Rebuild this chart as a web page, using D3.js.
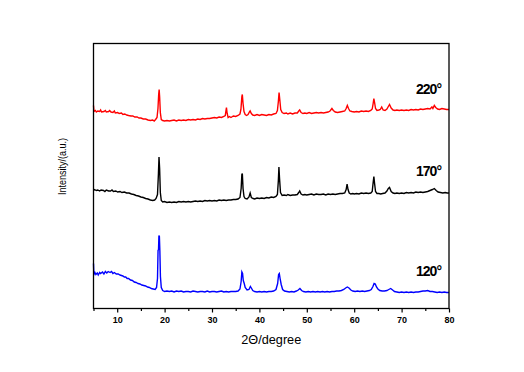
<!DOCTYPE html>
<html><head><meta charset="utf-8">
<script src="https://cdn.jsdelivr.net/npm/d3@7"></script>
<style>html,body{margin:0;padding:0;background:#fff}</style>
</head><body><div id="chart"></div>
<script>
// 2θ (degree) vs relative intensity (a.u., offset stacked)
const seriesNames = ["220°", "170°", "120°"];
const seriesColors = ["#ff0000", "#000000", "#0000ff"];
const xMajorTicks = [10, 20, 30, 40, 50, 60, 70, 80];
const xMinorTicks = [5, 15, 25, 35, 45, 55, 65, 75];

const red220 = [
[5.0,203],[5.1,197],[5.4,198],[5.6,196.5],[5.9,197.5],[6.3,197],[6.5,198.5],[6.7,196.5],[7.2,197],[7.5,198],[7.7,196.5],[8.2,197],[8.4,198],[8.7,196.5],[9.1,196],[9.4,197.5],[9.6,195.5],[10.1,196],[10.4,195],[10.9,195.5],[11.2,194],[11.6,194.5],[12.0,193.5],[12.4,193],[12.9,192.5],[13.3,192.5],[13.7,191.5],[14.2,191.5],[14.6,190.5],[15.0,190.5],[15.5,189.5],[16.0,189.5],[16.5,188.5],[17.0,188],[17.5,188.5],[17.8,187.5],[18.1,189],[18.4,191],[18.6,200],[18.75,214],[18.85,219],[18.95,212],[19.1,196],[19.3,189],[19.6,188],[20.0,187.5],[20.5,188],[21.0,187.5],[21.5,188],[22.0,188.5],[22.5,187.5],[23.0,188.5],[23.5,188],[24.0,188.5],[24.5,188],[25.0,189],[25.5,188.5],[26.0,189],[26.5,188.5],[27.0,189.5],[27.5,189],[28.0,190],[28.5,189.5],[29.0,190],[29.5,190],[30.0,190.5],[30.5,191],[31.0,190.5],[31.5,191.5],[32.0,191],[32.5,192],[32.8,193],[32.95,198],[33.05,201],[33.2,195],[33.4,191],[33.7,192],[34.0,191],[34.5,192.5],[35.0,192],[35.5,193],[35.9,194.5],[36.1,199],[36.3,212],[36.4,214],[36.55,205],[36.75,197],[37.0,194],[37.3,193],[37.6,194],[37.9,196.5],[38.05,197.5],[38.3,195],[38.6,193.5],[39.0,193],[39.5,194],[40.0,193],[40.5,194],[41.0,193.5],[41.5,193],[42.0,194],[42.5,193.5],[43.0,194.5],[43.5,195],[43.8,198],[44.0,207],[44.15,216],[44.3,209],[44.5,199],[44.8,196],[45.2,195],[45.7,195.5],[46.0,194.5],[46.5,195.5],[47.0,194.5],[47.5,195.5],[48.0,195.5],[48.3,197.5],[48.5,198.5],[48.8,196],[49.2,195],[49.6,195.5],[50.0,195],[50.5,196],[51.0,195],[51.5,195.5],[52.0,196],[52.5,195.5],[53.0,196],[53.5,195.5],[54.0,196],[54.5,196.5],[54.9,197.5],[55.3,200],[55.6,198],[56.0,196.5],[56.5,196],[57.0,196.5],[57.5,197],[58.0,197.5],[58.3,200],[58.55,203],[58.8,200],[59.1,197.5],[59.5,197],[60.0,196.5],[60.5,197],[61.0,196.5],[61.5,197.5],[62.0,197],[62.5,197.5],[63.0,197],[63.5,198],[63.8,199.5],[64.0,205],[64.15,210],[64.3,206],[64.5,200],[64.8,198],[65.2,198.5],[65.5,199],[65.8,201.5],[66.1,198.5],[66.5,198],[66.9,199.5],[67.2,202],[67.45,204],[67.8,200.5],[68.2,198.5],[68.6,198],[69.0,198.5],[69.5,198],[70.0,198.5],[70.5,198],[71.0,198.5],[71.5,198],[72.0,199],[72.5,198.5],[73.0,199],[73.5,198.5],[74.0,199.5],[74.5,199],[75.0,199.5],[75.5,200],[76.0,199.5],[76.4,201.5],[76.6,200],[76.9,203],[77.2,201],[77.6,199.5],[78.0,199],[78.5,200],[79.0,199.5],[79.5,199],[80.0,199]
];

const black170 = [
[5.0,118],[5.2,119],[5.6,118],[5.9,118.5],[6.3,117.5],[6.6,118.5],[7.1,118],[7.4,117],[7.7,118.5],[8.2,117.5],[8.6,117.5],[8.9,118.5],[9.2,117],[9.7,117.5],[10.1,116.5],[10.6,117],[11.0,116],[11.5,116.5],[12.0,115.5],[12.5,115.5],[13.0,114.5],[13.5,114],[14.0,113],[14.5,112.5],[15.0,111.5],[15.5,111],[16.0,110],[16.5,109.5],[17.0,108.5],[17.5,108],[17.9,108.5],[18.2,110],[18.5,114],[18.7,135],[18.82,151.5],[18.95,140],[19.1,116],[19.3,108],[19.6,106.5],[20.0,107],[20.5,106],[21.0,106.5],[21.5,106],[22.0,106.5],[22.5,106],[23.0,107],[23.5,106.5],[24.0,107],[24.5,106.5],[25.0,107],[25.5,106.5],[26.0,107],[26.5,107.5],[27.0,107],[27.5,107.5],[28.0,107],[28.5,108],[29.0,107.5],[29.5,108],[30.0,107.5],[30.5,108],[31.0,107.5],[31.5,108.5],[32.0,108],[32.5,108.5],[33.0,108],[33.5,108.5],[34.0,108.5],[34.5,109],[35.0,109],[35.5,109.5],[35.9,111],[36.15,120],[36.3,134],[36.4,135],[36.55,120],[36.75,112],[37.0,110],[37.4,109.5],[37.8,111.5],[38.05,115.5],[38.3,111],[38.7,110],[39.0,109.5],[39.5,110.5],[40.0,110],[40.5,110.5],[41.0,110],[41.5,111],[42.0,110.5],[42.5,111.5],[43.0,111],[43.5,112],[43.8,114],[44.0,128],[44.12,141.5],[44.25,130],[44.45,116],[44.8,113],[45.2,113.5],[45.7,113],[46.0,114],[46.5,113],[47.0,113.5],[47.5,113.5],[48.0,114],[48.3,116],[48.5,117.5],[48.8,114.5],[49.2,113.5],[49.6,114],[50.0,113.5],[50.5,114],[51.0,114.5],[51.5,113.5],[52.0,114.5],[52.5,114],[53.0,114],[53.5,114.5],[54.0,113.5],[54.5,114.5],[55.0,114],[55.5,114.5],[56.0,114],[56.5,114.5],[57.0,115],[57.5,115],[58.0,115.5],[58.3,119],[58.5,124.5],[58.7,119],[58.95,115.5],[59.3,114.5],[59.7,115],[60.0,114.5],[60.5,115],[61.0,114.5],[61.5,115.5],[62.0,115],[62.5,115.5],[63.0,115],[63.5,115.5],[63.8,117],[64.0,126],[64.15,132],[64.3,125],[64.5,117],[64.8,115],[65.2,115],[65.6,114.5],[66.0,115],[66.5,115.5],[66.9,117.5],[67.2,120],[67.45,121],[67.8,117],[68.2,115.5],[68.6,115],[69.0,115.5],[69.5,115],[70.0,115.5],[70.5,115],[71.0,116],[71.5,115.5],[72.0,116],[72.5,115.5],[73.0,116.5],[73.5,116],[74.0,116.5],[74.5,116],[75.0,116.5],[75.5,117],[76.0,118],[76.5,119],[76.9,120],[77.3,118],[77.7,116.5],[78.2,116],[78.7,115.5],[79.2,116],[79.6,115.5],[80.0,115.5]
];

const blue120 = [
[5.0,45],[5.08,34],[5.3,36],[5.5,34],[5.8,35.5],[6.0,33.5],[6.3,36],[6.5,35],[6.9,36.5],[7.2,34.5],[7.5,37],[7.8,35.5],[8.1,37],[8.5,36],[8.8,37],[9.1,35],[9.4,36],[9.8,34.5],[10.2,34.5],[10.6,33.5],[10.9,33],[11.2,32.5],[11.5,31.5],[11.8,31.5],[12.1,30],[12.4,30],[12.8,28.5],[13.2,28],[13.6,26.5],[14.0,26],[14.4,25],[14.8,24.5],[15.2,23.5],[15.6,23],[16.0,22.5],[16.4,21.5],[16.8,21],[17.2,20],[17.6,19.5],[18.0,19],[18.3,21],[18.5,30],[18.62,58],[18.72,59],[18.8,73],[18.9,72],[19.0,58],[19.12,32],[19.3,21],[19.6,18],[20.0,17],[20.5,17.5],[21.0,17],[21.5,17.5],[22.0,16.5],[22.5,17.5],[23.0,17],[23.5,17.5],[24.0,16.5],[24.5,17],[25.0,17],[25.5,16.5],[26.0,17.5],[26.5,17],[27.0,16.5],[27.5,17],[28.0,17],[28.5,16.5],[29.0,17.5],[29.5,16.5],[30.0,17],[30.5,17],[31.0,16.5],[31.5,17],[32.0,17.5],[32.5,16.5],[33.0,17],[33.5,16.5],[34.0,17],[34.5,17],[35.0,17],[35.5,17.5],[35.9,19.5],[36.15,27],[36.3,36.5],[36.45,35],[36.6,28],[36.8,25],[37.0,21],[37.4,18.5],[37.8,19],[38.1,22],[38.3,20.5],[38.6,18],[39.0,17],[39.5,16.5],[40.0,17],[40.5,16.5],[41.0,17],[41.5,16.5],[42.0,17],[42.5,17],[43.0,17.5],[43.5,19],[43.85,25],[44.05,34],[44.2,35],[44.4,29],[44.6,24],[44.9,19],[45.3,17.5],[45.8,17],[46.3,16.5],[46.8,17],[47.3,16.5],[47.8,17.5],[48.2,18.5],[48.55,20],[48.9,18],[49.3,17],[49.8,16.5],[50.3,17],[50.8,16.5],[51.3,17],[51.8,16.5],[52.3,17],[52.8,16.5],[53.3,17],[53.8,16.5],[54.3,17],[54.8,16.5],[55.3,17],[55.8,17],[56.3,17.5],[56.8,17.5],[57.3,18],[57.8,19],[58.2,20.5],[58.55,21.5],[58.9,20.5],[59.3,18.5],[59.7,17.5],[60.2,17],[60.7,17.5],[61.2,17],[61.7,17.5],[62.2,17],[62.7,17.5],[63.2,18],[63.6,19],[63.95,22],[64.2,25],[64.45,24.5],[64.7,21.5],[65.0,19.5],[65.4,18],[65.9,17.5],[66.4,17.5],[66.9,18],[67.3,19],[67.7,20],[68.1,18.5],[68.5,17],[69.0,16.5],[69.5,16],[70.0,16.5],[70.5,16],[71.0,16.5],[71.5,16],[72.0,16.5],[72.5,16],[73.0,16.5],[73.5,16.5],[74.0,17],[74.5,17.5],[75.0,17.5],[75.5,18],[76.0,17],[76.5,17],[77.0,16.5],[77.5,16],[78.0,16.5],[78.5,16],[79.0,16.5],[79.5,16],[80.0,16]
];
const allSeries = [red220, black170, blue120];

const W = 524, H = 372;
const margin = {left: 93.5, right: 75, top: 43.5, bottom: 63.5};
const svg = d3.select("#chart").append("svg").attr("width", W).attr("height", H)
  .style("font-family", "Arial, 'Liberation Sans', sans-serif");

const x = d3.scaleLinear().domain([5, 80]).range([margin.left, W - margin.right]);
const y = d3.scaleLinear().domain([0, 265]).range([H - margin.bottom, margin.top]);

// series
const line = d3.line().x(d => x(d[0])).y(d => y(d[1]));
allSeries.forEach((s, i) => {
  svg.append("path").datum(s).attr("d", line)
    .attr("fill", "none").attr("stroke", seriesColors[i]).attr("stroke-width", 1.4)
    .attr("stroke-linejoin", "miter");
});

// frame
svg.append("rect").attr("x", x(5)).attr("y", y(265))
  .attr("width", x(80) - x(5)).attr("height", y(0) - y(265))
  .attr("fill", "none").attr("stroke", "#000").attr("stroke-width", 1.3);

// x axis
const xAxis = d3.axisBottom(x).tickValues(xMajorTicks).tickSize(4).tickPadding(4).tickFormat(d3.format("d"));
const gx = svg.append("g").attr("transform", `translate(0,${y(0)})`).call(xAxis);
gx.select(".domain").remove();
gx.selectAll(".tick line").attr("stroke", "#000").attr("stroke-width", 1.2);
gx.selectAll(".tick text").attr("font-size", 9).attr("font-weight", "bold").attr("fill", "#000")
  .attr("font-family", "Arial, 'Liberation Sans', sans-serif");
const gxm = svg.append("g").attr("transform", `translate(0,${y(0)})`)
  .call(d3.axisBottom(x).tickValues(xMinorTicks).tickSize(2.5).tickFormat(""));
gxm.select(".domain").remove();
gxm.selectAll(".tick line").attr("stroke", "#000").attr("stroke-width", 1.2);

// axis titles
svg.append("text").attr("x", (x(5) + x(80)) / 2).attr("y", 344)
  .attr("text-anchor", "middle").attr("font-size", 13).attr("fill", "#000")
  .attr("textLength", 60).attr("lengthAdjust", "spacingAndGlyphs")
  .text("2Θ/degree");
svg.append("text").attr("transform", "translate(66,166.5) rotate(-90)")
  .attr("text-anchor", "middle").attr("font-size", 11).attr("fill", "#000")
  .attr("textLength", 57).attr("lengthAdjust", "spacingAndGlyphs")
  .text("Intensity/(a.u.)");

// series labels
const labelY = [94, 176, 276];
seriesNames.forEach((n, i) => {
  svg.append("text").attr("x", 441).attr("y", labelY[i]).attr("text-anchor", "end")
    .attr("font-size", 14).attr("font-weight", "bold").attr("fill", "#000")
    .attr("letter-spacing", -1).text(n);
});
</script>
</body></html>
